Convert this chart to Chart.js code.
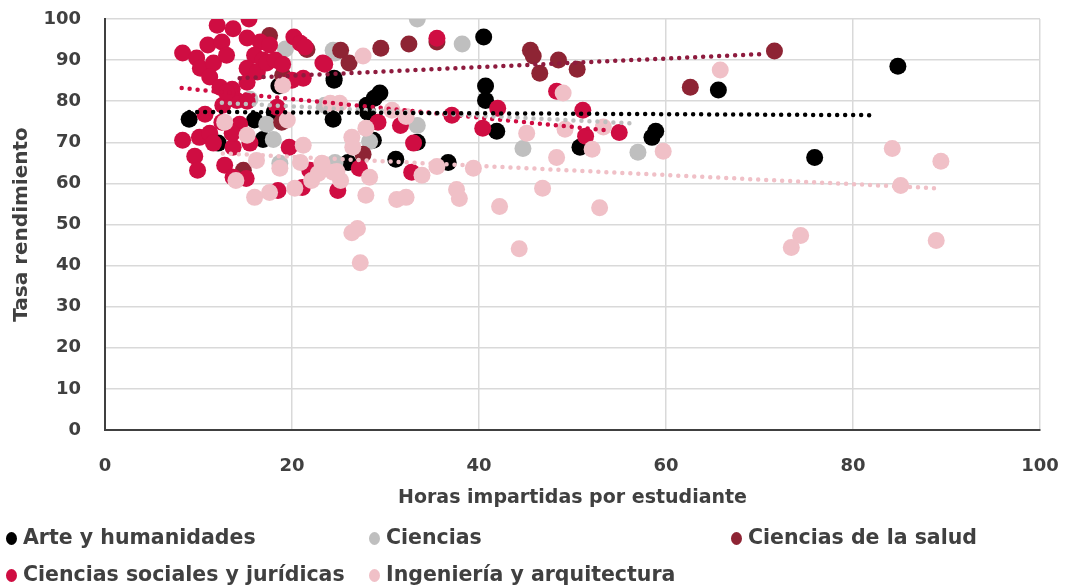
<!DOCTYPE html>
<html>
<head>
<meta charset="utf-8">
<script src="https://cdn.jsdelivr.net/npm/chart.js@4"></script>
<style>
  html, body { margin: 0; padding: 0; background: #fff; }
  #wrap { position: relative; width: 1067px; height: 587px; }
  #legend { position: absolute; left: 0; top: 0; width: 1067px; height: 587px; pointer-events: none;
            font-family: "DejaVu Sans", sans-serif; font-weight: bold; font-size: 20.5px; color: #404040; }
  .item { position: absolute; white-space: nowrap; line-height: 24px; }
  .dot { display: inline-block; width: 11px; height: 13px; border-radius: 50%; margin-right: 6px; vertical-align: -1px; }
</style>
</head>
<body>
<div id="wrap">
  <canvas id="myChart" width="1067" height="587"></canvas>
  <div id="legend"></div>
</div>
<script>
// Arte y humanidades
const arteX = [9.0, 40.5, 40.7, 40.7, 41.9, 84.8, 65.6, 75.9, 58.9, 58.5, 50.8, 36.7, 31.1, 26.0, 24.5, 24.4, 29.4, 28.8, 28.0, 28.1, 28.7, 18.1, 18.6, 16.0, 16.9, 12.1, 33.4, 24.5];
const arteY = [75.6, 95.6, 83.7, 80.2, 72.7, 88.5, 82.7, 66.3, 72.7, 71.2, 68.8, 65.1, 65.9, 65.1, 85.6, 75.6, 82.0, 80.7, 79.0, 77.3, 70.5, 77.3, 83.7, 75.4, 70.7, 69.8, 70.0, 85.1];

// Ciencias
const cienX = [33.4, 38.2, 19.3, 24.4, 24.6, 33.4, 44.7, 57.0, 24.6, 18.0, 17.3, 18.7, 23.5, 28.3, 15.5];
const cienY = [100, 93.9, 92.7, 92.4, 91.7, 74.1, 68.5, 67.6, 65.1, 70.7, 74.4, 64.9, 79.0, 70.2, 80.5];

// Ciencias de la salud
const saludX = [71.6, 62.6, 45.5, 45.8, 46.5, 48.5, 50.5, 35.5, 32.5, 29.5, 25.2, 26.1, 17.6, 21.6, 27.6, 14.8, 18.9, 19.0];
const saludY = [92.2, 83.4, 92.4, 91.0, 86.8, 90.0, 87.8, 94.4, 93.9, 92.9, 92.4, 89.3, 96.0, 92.6, 67.1, 63.2, 74.9, 86.3];

// Ciencias sociales y jurídicas
const socX = [12.0, 15.4, 13.7, 8.3, 9.8, 11.0, 12.5, 10.2, 11.6, 13.0, 15.2, 16.6, 17.6, 16.0, 16.9, 15.2, 11.2, 12.3, 13.6, 15.2,
  16.3, 17.3, 18.2, 19.0, 20.2, 20.9, 21.4, 21.2, 23.3, 12.6, 14.1, 15.2, 13.0, 18.4, 20.0, 23.5, 35.5, 29.2, 37.1, 42.0,
  40.4, 8.3, 9.6, 9.9, 12.8, 13.7, 15.1, 14.4, 10.1, 11.2, 11.6, 13.7, 15.5, 18.5, 19.7, 21.1, 21.9, 24.9, 10.7, 13.6,
  12.5, 27.2, 31.6, 32.8, 33.0, 48.3, 51.1, 51.4, 55.0];
const socY = [98.5, 100, 97.6, 91.7, 90.5, 93.7, 94.4, 88.0, 89.3, 91.2, 95.4, 94.4, 93.7, 91.2, 90.0, 88.0, 85.9, 83.4, 82.9, 84.6,
  87.1, 89.3, 90.0, 89.0, 95.6, 94.1, 93.2, 85.6, 89.3, 79.0, 80.2, 80.0, 82.2, 78.5, 85.1, 89.0, 95.3, 74.9, 76.6, 78.3,
  73.4, 70.5, 66.6, 63.2, 64.4, 61.5, 61.2, 74.4, 71.2, 72.2, 69.8, 68.8, 69.8, 58.3, 68.8, 59.0, 63.2, 58.3, 76.8, 72.2,
  74.9, 63.7, 74.1, 62.7, 69.8, 82.4, 77.8, 71.5, 72.4];

// Ingeniería y arquitectura
const ingX = [65.8, 84.2, 89.4, 85.1, 88.9, 74.4, 73.4, 59.7, 52.1, 52.9, 48.3, 49.0, 49.2, 45.1, 46.8, 53.3, 42.2, 44.3, 39.4, 35.5,
  37.6, 37.9, 33.9, 32.2, 31.2, 27.0, 26.4, 27.3, 27.9, 28.3, 25.2, 24.8, 23.2, 26.4, 26.5, 27.9, 27.6, 24.1, 25.1, 30.7,
  32.2, 12.8, 15.2, 19.5, 21.2, 20.9, 22.1, 20.3, 18.7, 17.6, 16.0, 14.0, 16.2, 22.8, 24.4, 19.0];
const ingY = [87.6, 68.5, 65.4, 59.5, 46.1, 47.3, 44.4, 67.8, 68.3, 54.1, 66.3, 82.0, 73.2, 72.2, 58.8, 73.7, 54.4, 44.1, 63.7, 64.1,
  58.5, 56.3, 62.0, 56.6, 56.1, 49.0, 48.0, 40.7, 57.1, 61.5, 60.7, 62.9, 64.9, 71.2, 68.8, 73.4, 91.0, 79.5, 79.5, 77.8,
  76.3, 74.9, 71.7, 75.4, 69.3, 65.1, 60.7, 58.8, 63.7, 57.8, 56.6, 60.7, 65.6, 62.4, 62.7, 83.9];

// linear trend lines (start and end)
const arteTrend = [[9, 77.4], [82, 76.6]];
const cienTrend = [[12.5, 79.6], [56.5, 74.6]];
const saludTrend = [[14.4, 85.6], [70.6, 91.5]];
const socTrend = [[8.2, 83.2], [53.7, 72.9]];
const ingTrend = [[12.6, 67.3], [89.1, 58.8]];

const names = ['Arte y humanidades', 'Ciencias', 'Ciencias de la salud', 'Ciencias sociales y jurídicas', 'Ingeniería y arquitectura'];
const colors = ['#000000', '#BFBFBF', '#8E2434', '#CF0D42', '#F0C0C7'];
const trendColors = ['#000000', '#BFBFBF', '#8E1B3E', '#CF0D42', '#F0C0C7'];

const xs = [arteX, cienX, saludX, socX, ingX];
const ys = [arteY, cienY, saludY, socY, ingY];
const trends = [arteTrend, cienTrend, saludTrend, socTrend, ingTrend];

const toPts = (a, b) => a.map((v, i) => ({x: v, y: b[i]}));

const datasets = [];
names.forEach((n, i) => {
    datasets.push({
        label: n,
        data: toPts(xs[i], ys[i]),
        backgroundColor: colors[i],
        borderWidth: 0,
        pointRadius: 8.5,
        pointHoverRadius: 8.5,
        order: 10 - i
    });
});
trends.forEach((t, i) => {
    datasets.push({
        type: 'line',
        label: names[i] + ' trend',
        data: t.map(p => ({x: p[0], y: p[1]})),
        borderColor: trendColors[i],
        borderWidth: 4.5,
        borderDash: [0, 8],
        borderCapStyle: 'round',
        pointRadius: 0,
        fill: false,
        order: 0
    });
});

const tickFont = {family: 'DejaVu Sans', weight: 'bold', size: 18};

let ctx = document.getElementById('myChart');
var myChart = new Chart(ctx, {
    type: 'scatter',
    data: {datasets: datasets},
    options: {
        responsive: false,
        devicePixelRatio: 1,
        animation: false,
        events: [],
        layout: {padding: {left: 0, right: 27, top: 19, bottom: 77}},
        plugins: {legend: {display: false}, tooltip: {enabled: false}},
        scales: {
            x: {
                type: 'linear', min: 0, max: 100,
                ticks: {stepSize: 20, font: tickFont, color: '#404040', padding: 0},
                grid: {color: '#D9D9D9', lineWidth: 1.5, drawTicks: true, tickLength: 26, tickColor: 'rgba(0,0,0,0)'},
                border: {color: '#404040', width: 2},
                title: {display: true, text: 'Horas impartidas por estudiante', font: {family: 'DejaVu Sans', weight: 'bold', size: 19},
                        color: '#404040', padding: {top: 0, bottom: 1}},
                afterFit: s => { s.height = 80; }
            },
            y: {
                min: 0, max: 100,
                ticks: {stepSize: 10, font: tickFont, color: '#404040', padding: 0},
                grid: {color: '#D9D9D9', lineWidth: 1.5, drawTicks: true, tickLength: 24, tickColor: 'rgba(0,0,0,0)'},
                border: {color: '#404040', width: 2},
                title: {display: true, text: 'Tasa rendimiento', font: {family: 'DejaVu Sans', weight: 'bold', size: 20},
                        color: '#404040', padding: {top: 10, bottom: 0}},
                afterFit: s => { s.width = 105; }
            }
        }
    }
});

// legend laid out like the original (two rows, three columns)
const legendPos = [[6, 537], [369, 537], [731, 537], [6, 574], [369, 574]];
const legend = document.getElementById('legend');
names.forEach((n, i) => {
    const d = document.createElement('div');
    d.className = 'item';
    d.style.left = legendPos[i][0] + 'px';
    d.style.top = (legendPos[i][1] - 12) + 'px';
    d.innerHTML = '<span class="dot" style="background:' + colors[i] + '"></span>' + n;
    legend.appendChild(d);
});
</script>
</body>
</html>
